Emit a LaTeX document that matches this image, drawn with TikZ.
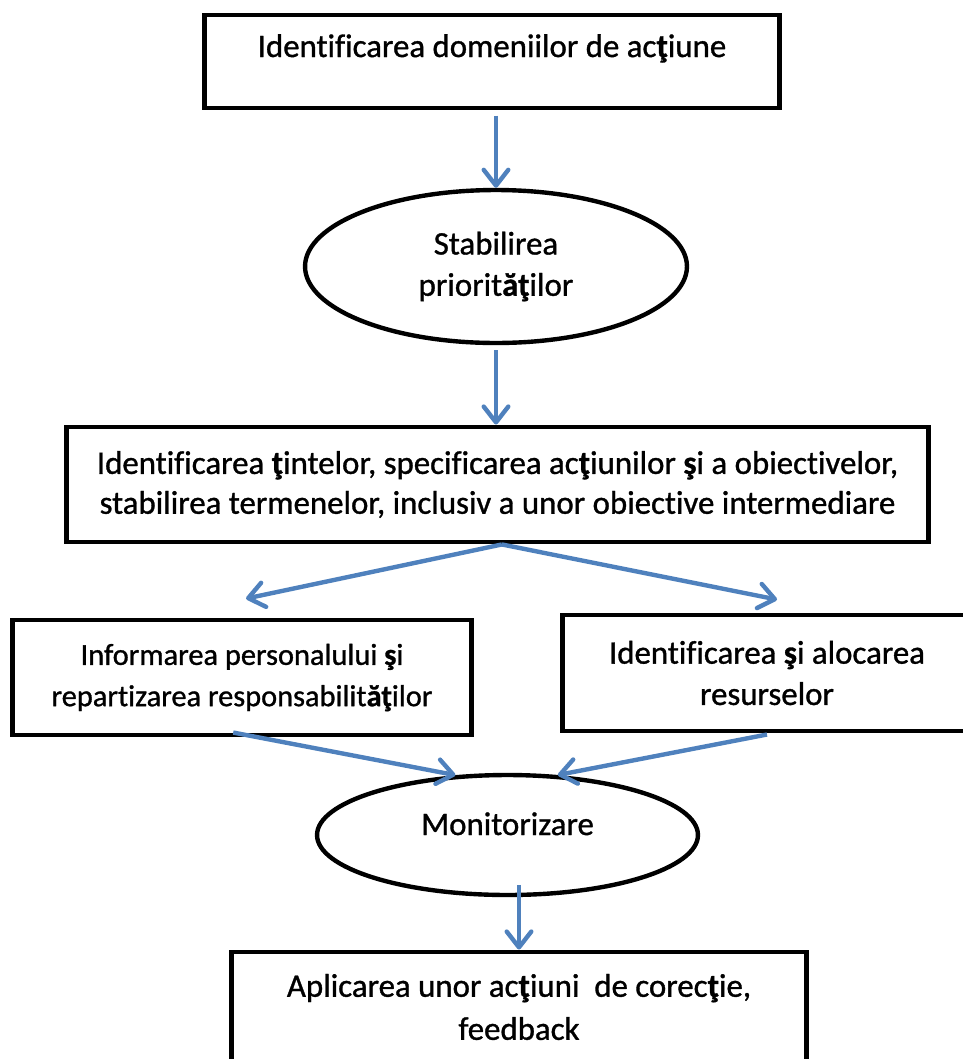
\documentclass[tikz,border=0pt]{standalone}
\usepackage{fontspec}
\setmainfont{Carlito}[Ligatures=NoCommon,FakeBold=1]
\usetikzlibrary{shapes.geometric,arrows.meta}
\definecolor{arrowblue}{HTML}{4F81BD}
\begin{document}
\begin{tikzpicture}[x=0.02cm,y=-0.02cm,
  box/.style={draw,line width=2.8pt,rectangle,inner sep=0pt,align=center,font=\fontsize{18.7}{23.5}\selectfont},
  oval/.style={draw,line width=2.5pt,ellipse,inner sep=0pt,align=center,font=\fontsize{18.7}{23.5}\selectfont},
  arr/.style={draw=arrowblue,line width=2.5pt,-{Straight Barb[length=9pt,width=14pt,round]}}]
\useasboundingbox (0,0) rectangle (963,1059);
\clip (0,0) rectangle (963,1059);
\node [box,minimum width=11.52cm,minimum height=1.86cm,text height=12.6pt,text depth=17.7pt] (dom) at (492,61.5) {Identificarea domeniilor de ac\textbf{ţ}iune};
\node [oval,minimum width=7.64cm,minimum height=3.06cm] (prio) at (496,266.5) {Stabilirea\\priorit\textbf{ăţ}ilor};
\node [box,minimum width=17.26cm,minimum height=2.3cm,font=\fontsize{18.7}{22.7}\selectfont] (tinte) at (497.5,484.5) {Identificarea \textbf{ţ}intelor, specificarea ac\textbf{ţ}iunilor \textbf{ş}i a obiectivelor,\\stabilirea termenelor, inclusiv a unor obiective intermediare};
\node [box,minimum width=9.2cm,minimum height=2.3cm,font=\fontsize{17.3}{23.5}\selectfont] (info) at (242,677.5) {Informarea personalului \textbf{ş}i\\repartizarea responsabilit\textbf{ăţ}ilor};
\node [box,minimum width=8.2cm,minimum height=2.32cm] (res) at (767,673) {Identificarea \textbf{ş}i alocarea\\resurselor};
\node [oval,minimum width=7.62cm,minimum height=2.4cm,text height=11.6pt,text depth=11.6pt] (mon) at (507.5,835) {Monitorizare};
\node [box,minimum width=11.51cm,minimum height=2.2cm,font=\fontsize{18.7}{24.5}\selectfont] (cor) at (519,1007) {Aplicarea unor ac\textbf{ţ}iuni\ \ de corec\textbf{ţ}ie,\\feedback};
\draw [arr] ([yshift=-3pt]dom.south -| prio.north) -- (prio.north);
\draw [arr] ([yshift=-3pt]prio.south) -- (tinte.north -| prio.south);
\draw [arr] ([xshift=2.5pt]tinte.south) -- ([xshift=2.3pt,yshift=10.8pt]info.north);
\draw [arr] ([xshift=2.5pt]tinte.south) -- ([xshift=5.7pt,yshift=7.4pt]res.north);
\draw [arr] ([xshift=-5pt,yshift=2.8pt]info.south) -- (mon.131);
\draw [arr] ([yshift=-0.6pt]res.south) -- (mon.50);
\draw [arr] ([yshift=7pt]mon.south -| cor.north) -- (cor.north);
\end{tikzpicture}
\end{document}
